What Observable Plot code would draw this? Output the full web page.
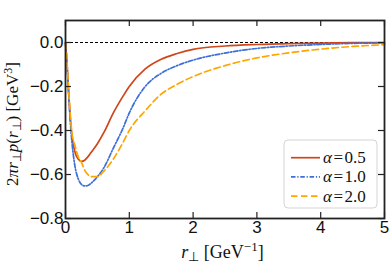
<!DOCTYPE html>
<html><head><meta charset="utf-8">
<script src="https://cdn.jsdelivr.net/npm/d3@7"></script>
<script src="https://cdn.jsdelivr.net/npm/@observablehq/plot@0.6"></script>
<style>body{margin:0;background:#fff} svg{display:block}</style>
</head><body><div id="chart"></div>
<script>
// r_perp grid [GeV^-1]
const rPerp   = [0, 0.02, 0.05, 0.075, 0.1, 0.15, 0.2, 0.25, 0.3, 0.35, 0.4, 0.5, 0.6, 0.75, 0.9, 1.0, 1.25, 1.5, 1.75, 2.0, 2.5, 3.0, 3.5, 4.0, 4.5, 5.0];
// 2 pi r p(r) [GeV^3]
const alpha05 = [0, -0.08, -0.23, -0.34, -0.42, -0.50, -0.53, -0.54, -0.535, -0.52, -0.50, -0.46, -0.41, -0.32, -0.245, -0.20, -0.12, -0.076, -0.05, -0.031, -0.016, -0.009, -0.005, -0.003, -0.001, 0];
const alpha10 = [0, -0.08, -0.24, -0.36, -0.45, -0.565, -0.62, -0.645, -0.652, -0.65, -0.64, -0.61, -0.57, -0.48, -0.39, -0.32, -0.20, -0.14, -0.105, -0.08, -0.048, -0.027, -0.016, -0.009, -0.004, -0.002];
const alpha20 = [0, -0.07, -0.22, -0.33, -0.41, -0.47, -0.52, -0.545, -0.58, -0.60, -0.61, -0.61, -0.585, -0.53, -0.455, -0.40, -0.31, -0.235, -0.19, -0.155, -0.105, -0.07, -0.047, -0.03, -0.018, -0.01];
const alphaLabels = ["0.5", "1.0", "2.0"];
const xTicks = [0, 1, 2, 3, 4, 5];
const yTicks = [0, -0.2, -0.4, -0.6, -0.8];

const colors = ["#d0451b", "#3d6fd8", "#ffa500"];
const dashes = [null, "4.5,1.8,1.2,1.8", "6.5,3.5"];

const W = 390, H = 264, mL = 65, mR = 6, mT = 20, mB = 46;
const plotH = H - mT - mB, plotW = W - mL - mR;

const series = [alpha05, alpha10, alpha20];
const rows = [];
series.forEach((s, i) => s.forEach((v, j) => rows.push({r: rPerp[j], v, k: i})));

const tickStyle = {stroke: "#222", strokeWidth: 1.2};
const chart = Plot.plot({
  width: W, height: H,
  marginLeft: mL, marginRight: mR, marginTop: mT, marginBottom: mB,
  style: {fontFamily: "'Liberation Sans', Arial, sans-serif", fontSize: "17px", background: "white", overflow: "visible", color: "#111"},
  x: {domain: [0, 5]},
  y: {domain: [-0.8, 0.1]},
  marks: [
    Plot.ruleY([0], {stroke: "black", strokeWidth: 1.1, strokeDasharray: "3,2"}),
    ...series.map((s, i) => Plot.line(rows.filter(d => d.k === i), {
      x: "r", y: "v", stroke: colors[i], strokeWidth: 1.7,
      strokeDasharray: dashes[i], curve: "monotone-x"
    })),
    Plot.tickX(xTicks, {x: d => d, insetTop: plotH - 6, ...tickStyle}),
    Plot.tickX(xTicks, {x: d => d, insetBottom: plotH - 6, ...tickStyle}),
    Plot.tickY(yTicks, {y: d => d, insetRight: plotW - 6, ...tickStyle}),
    Plot.tickY(yTicks, {y: d => d, insetLeft: plotW - 6, ...tickStyle}),
    Plot.frame({stroke: "#222", strokeWidth: 1.8}),
    Plot.axisX(xTicks, {tickSize: 0, tickPadding: 2, label: null, fontSize: 17, tickFormat: d => String(d)}),
    Plot.axisY(yTicks, {tickSize: 0, tickPadding: 2, label: null, fontSize: 17, tickFormat: d3.format(".1f")})
  ]
});
document.getElementById("chart").appendChild(chart);

const svg = d3.select(chart);
const serif = "'Liberation Serif', 'Times New Roman', serif";

// y label
const yl = svg.append("text")
  .attr("transform", `translate(18,124) rotate(-90)`)
  .attr("text-anchor", "middle")
  .attr("font-family", serif).attr("font-size", 17).attr("fill", "#111");
yl.append("tspan").text("2");
yl.append("tspan").attr("font-style", "italic").text("πr");
yl.append("tspan").attr("font-size", 12).attr("baseline-shift", "-3").text("⊥");
yl.append("tspan").attr("font-style", "italic").text("p");
yl.append("tspan").text("(");
yl.append("tspan").attr("font-style", "italic").text("r");
yl.append("tspan").attr("font-size", 12).attr("baseline-shift", "-3").text("⊥");
yl.append("tspan").text(") [GeV");
yl.append("tspan").attr("font-size", 12).attr("baseline-shift", "6").text("3");
yl.append("tspan").text("]");

// x label
const xl = svg.append("text")
  .attr("x", mL + plotW / 2 - 2).attr("y", 258)
  .attr("text-anchor", "middle")
  .attr("font-family", serif).attr("font-size", 18).attr("fill", "#111");
xl.append("tspan").attr("font-style", "italic").text("r");
xl.append("tspan").attr("font-size", 13).attr("baseline-shift", "-3").text("⊥");
xl.append("tspan").text(" [GeV");
xl.append("tspan").attr("font-size", 13).attr("baseline-shift", "7").text("−1");
xl.append("tspan").text("]");

// legend
const lg = svg.append("g");
lg.append("rect").attr("x", 284).attr("y", 140).attr("width", 93).attr("height", 68)
  .attr("rx", 4).attr("fill", "white").attr("fill-opacity", 0.85)
  .attr("stroke", "#d4d4d4").attr("stroke-width", 1);
alphaLabels.forEach((a, i) => {
  const y = 157.7 + i * 19.2;
  lg.append("line").attr("x1", 291).attr("x2", 320).attr("y1", y).attr("y2", y)
    .attr("stroke", colors[i]).attr("stroke-width", 1.7)
    .attr("stroke-dasharray", dashes[i]);
  const t = lg.append("text").attr("x", 323).attr("y", y + 5.5)
    .attr("text-anchor", "start")
    .attr("font-family", serif).attr("font-size", 17).attr("fill", "#111");
  t.append("tspan").attr("font-style", "italic").text("α");
  t.append("tspan").attr("dx", 1.5).text("=");
  t.append("tspan").attr("dx", 1.5).text(a);
});
</script>
</body></html>
